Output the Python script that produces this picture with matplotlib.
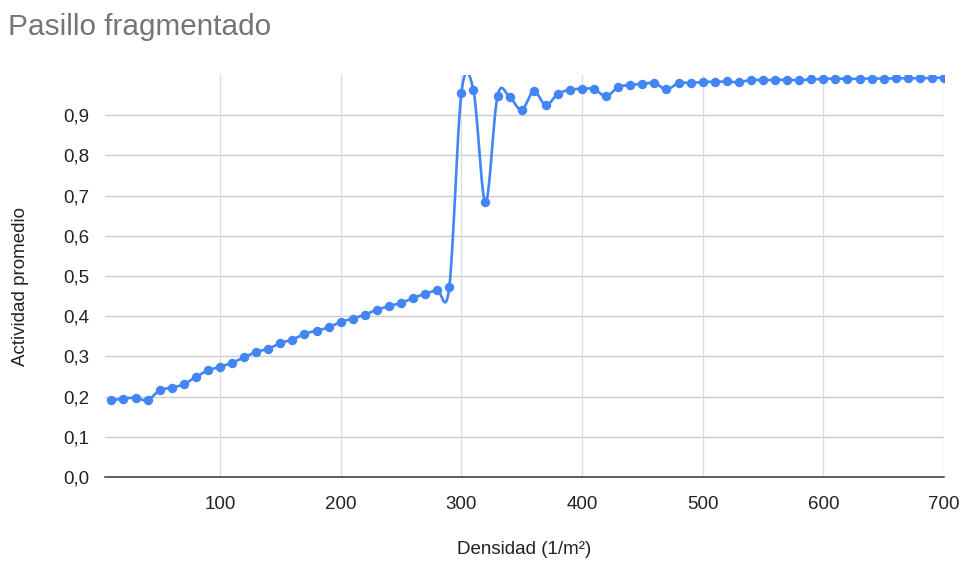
import numpy as np
import matplotlib
matplotlib.use("Agg")
import matplotlib.pyplot as plt
from matplotlib.ticker import FuncFormatter

plt.rcParams['font.family'] = ['Liberation Sans', 'DejaVu Sans']

# Densidad (1/m²) and actividad promedio
densidad = list(range(10, 701, 10))
actividad = [
    0.191, 0.195, 0.197, 0.191, 0.216, 0.222, 0.231, 0.249, 0.265, 0.274,
    0.284, 0.298, 0.311, 0.319, 0.333, 0.342, 0.356, 0.364, 0.372, 0.386,
    0.394, 0.404, 0.416, 0.425, 0.433, 0.445, 0.456, 0.465, 0.472, 0.954,
    0.963, 0.683, 0.948, 0.945, 0.913, 0.960, 0.925, 0.953, 0.963, 0.966,
    0.965, 0.947, 0.970, 0.975, 0.978, 0.980, 0.964, 0.980, 0.980, 0.983,
    0.983, 0.984, 0.982, 0.988, 0.987, 0.988, 0.988, 0.987, 0.989, 0.990,
    0.991, 0.990, 0.991, 0.991, 0.991, 0.992, 0.992, 0.992, 0.993, 0.993,
]

x_ticks = [100, 200, 300, 400, 500, 600, 700]
y_ticks = [0.0, 0.1, 0.2, 0.3, 0.4, 0.5, 0.6, 0.7, 0.8, 0.9]

BLUE = '#4285F4'


def catmull_rom(xs, ys, steps=20):
    # smooth curve through every point (uniform Catmull-Rom)
    xs = np.asarray(xs, float)
    ys = np.asarray(ys, float)
    n = len(xs)
    my = np.empty(n)
    my[1:-1] = (ys[2:] - ys[:-2]) / 2
    my[0] = ys[1] - ys[0]
    my[-1] = ys[-1] - ys[-2]
    mx = np.empty(n)
    mx[1:-1] = (xs[2:] - xs[:-2]) / 2
    mx[0] = xs[1] - xs[0]
    mx[-1] = xs[-1] - xs[-2]
    t = np.linspace(0, 1, steps, endpoint=False)
    h00 = 2 * t**3 - 3 * t**2 + 1
    h10 = t**3 - 2 * t**2 + t
    h01 = -2 * t**3 + 3 * t**2
    h11 = t**3 - t**2
    cx, cy = [], []
    for i in range(n - 1):
        cx.append(h00 * xs[i] + h10 * mx[i] + h01 * xs[i + 1] + h11 * mx[i + 1])
        cy.append(h00 * ys[i] + h10 * my[i] + h01 * ys[i + 1] + h11 * my[i + 1])
    cx.append([xs[-1]])
    cy.append([ys[-1]])
    return np.concatenate(cx), np.concatenate(cy)


fig = plt.figure(figsize=(9.63, 5.65), dpi=100)
ax = fig.add_axes([105 / 963, 88 / 565, 839 / 963, 402 / 565])

sx, sy = catmull_rom(densidad, actividad)
ax.plot(sx, sy, color=BLUE, linewidth=1.9, solid_capstyle='round', zorder=3)
ax.plot(densidad, actividad, 'o', color=BLUE, markersize=6.8,
        markeredgewidth=0, zorder=4)

ax.set_xlim(4.7, 700)
ax.set_ylim(0, 1.0)
ax.set_xticks(x_ticks)
ax.set_yticks(y_ticks)
ax.yaxis.set_major_formatter(FuncFormatter(lambda v, _: f"{v:.1f}".replace('.', ',')))

for s in ['top', 'left', 'right']:
    ax.spines[s].set_visible(False)
ax.spines['bottom'].set_color('#333333')
ax.spines['bottom'].set_linewidth(1.1)
ax.spines['bottom'].set_zorder(5)

for v in y_ticks[1:]:
    ax.axhline(v, color='#cccccc', linewidth=1.0, zorder=1)
for v in x_ticks:
    ax.axvline(v, color='#dddddd', linewidth=1.0, zorder=1)

ax.tick_params(length=0, labelsize=13.5, colors='#222222')
ax.tick_params(axis='x', pad=14)
ax.tick_params(axis='y', pad=11)

fig.text(8 / 963, 1 - 27 / 565, "Pasillo fragmentado", fontsize=21.4,
         color='#757575', va='center', ha='left')
fig.text(524 / 963, 1 - 549 / 565, "Densidad (1/m²)", fontsize=13.5,
         color='#222222', ha='center', va='center')
fig.text(21 / 963, 1 - 287 / 565, "Actividad promedio", fontsize=13.5,
         color='#222222', ha='center', va='center', rotation=90)

fig.savefig("out.png", dpi=100)
